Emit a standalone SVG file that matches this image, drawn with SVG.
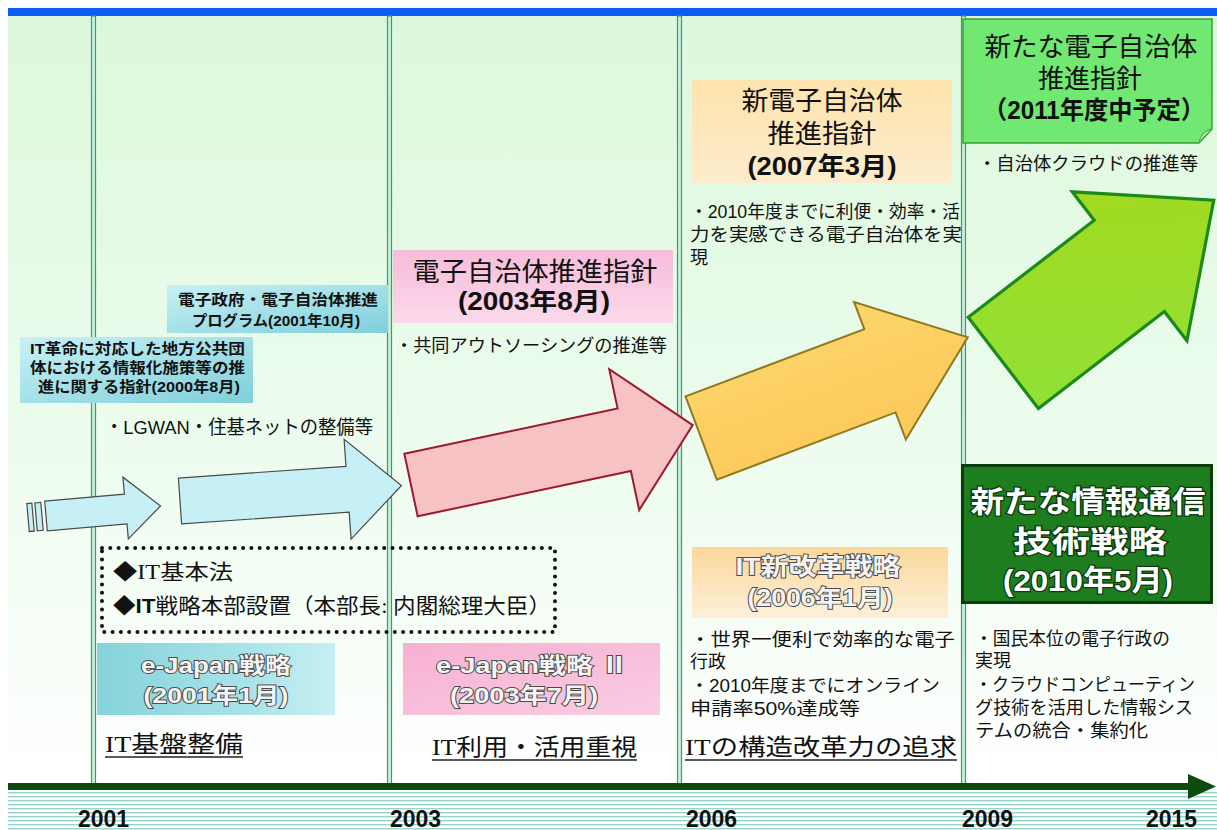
<svg xmlns="http://www.w3.org/2000/svg" width="1217" height="830" viewBox="0 0 1217 830">
<defs>
<style>
.s{font-family:"Liberation Sans","Noto Sans CJK JP",sans-serif;fill:#111}
.r{font-family:"Liberation Serif","Noto Sans CJK JP",serif;fill:#111}
.b{font-weight:bold}
.c{text-anchor:middle}
.emb{fill:#f4f4f4;stroke:#4a4a4a;stroke-width:1.8;paint-order:stroke;font-weight:bold}
.wt{fill:#ffffff;stroke:#0b3a0b;stroke-width:2.5;paint-order:stroke;font-weight:bold}
.vl{fill:#c8f0dc;stroke:#3f9a6c;stroke-width:1.2}
.ul{stroke:#222;stroke-width:1.5}
</style>
<linearGradient id="bg" x1="0" y1="0" x2="0" y2="1">
<stop offset="0" stop-color="#dcf8dc"/>
<stop offset="0.6" stop-color="#eefcef"/>
<stop offset="1" stop-color="#ffffff"/>
</linearGradient>
<linearGradient id="cyanA" x1="0" y1="0" x2="1" y2="1">
<stop offset="0" stop-color="#c8f1f6"/>
<stop offset="1" stop-color="#7fcfda"/>
</linearGradient>
<linearGradient id="cyanB" x1="0" y1="0" x2="1" y2="0">
<stop offset="0" stop-color="#86d3dc"/>
<stop offset="0.6" stop-color="#a6e2e8"/>
<stop offset="1" stop-color="#c6eff3"/>
</linearGradient>
<linearGradient id="pinkA" x1="0" y1="0" x2="0" y2="1">
<stop offset="0" stop-color="#f7bcd9"/>
<stop offset="1" stop-color="#fbd9ea"/>
</linearGradient>
<linearGradient id="pinkB" x1="0" y1="0" x2="1" y2="1">
<stop offset="0" stop-color="#f7b0d2"/>
<stop offset="1" stop-color="#f9cde2"/>
</linearGradient>
<linearGradient id="orA" x1="0" y1="0" x2="0" y2="1">
<stop offset="0" stop-color="#fde3ad"/>
<stop offset="1" stop-color="#fdeccc"/>
</linearGradient>
<linearGradient id="orB" x1="0" y1="0" x2="0" y2="1">
<stop offset="0" stop-color="#fbd79b"/>
<stop offset="1" stop-color="#fdf0da"/>
</linearGradient>
<linearGradient id="grArrow" x1="0" y1="1" x2="1" y2="0">
<stop offset="0" stop-color="#8ee23a"/>
<stop offset="1" stop-color="#a6d81a"/>
</linearGradient>
<linearGradient id="ylArrow" x1="0" y1="0" x2="0" y2="1">
<stop offset="0" stop-color="#fdd56a"/>
<stop offset="1" stop-color="#fbc85a"/>
</linearGradient>
<pattern id="stripes" width="8" height="4" patternUnits="userSpaceOnUse">
<rect width="8" height="4" fill="#ffffff"/>
<rect y="0" width="8" height="1.4" fill="#98d4cc"/>
</pattern>
</defs>

<rect width="1217" height="830" fill="#ffffff"/>
<rect x="8" y="16" width="1209" height="768" fill="url(#bg)"/>
<rect x="8" y="8" width="1209" height="8" fill="#0b5cf2"/>

<g id="gridlines">
<rect class="vl" x="91.5" y="16" width="4" height="768"/>
<rect class="vl" x="387.5" y="16" width="4" height="768"/>
<rect class="vl" x="677.5" y="16" width="4" height="768"/>
<rect class="vl" x="961.5" y="16" width="4" height="768"/>
</g>

<g id="timeline">
<rect x="8" y="792" width="1209" height="38" fill="url(#stripes)"/>
<rect x="8" y="783" width="1184" height="7" fill="#0c4a10"/>
<polygon points="1188,774 1216,786.5 1188,799" fill="#0c4a10"/>
<text class="s b" x="78" y="827" font-size="23">2001</text>
<text class="s b" x="390" y="827" font-size="23">2003</text>
<text class="s b" x="686" y="827" font-size="23">2006</text>
<text class="s b" x="962" y="827" font-size="23">2009</text>
<text class="s b" x="1146" y="827" font-size="23">2015</text>
</g>

<g id="connectors">
<g id="arrow-small" transform="translate(46,516) rotate(-5)" fill="#c6f0f6" stroke="#4a4a4a" stroke-width="1.2">
<rect x="-18" y="-14" width="5" height="28"/>
<rect x="-10" y="-14" width="6" height="28"/>
<polygon points="0,-15 80,-15 80,-32 115,0 80,30 80,15 0,15"/>
</g>
<polygon id="arrow-cyan" transform="translate(180,501) rotate(-4)" points="0,-23 168,-23 168,-50 222,0 168,50 168,23 0,23" fill="#c6f0f6" stroke="#4a4a4a" stroke-width="1.2"/>
<polygon id="arrow-red" transform="translate(411,485) rotate(-12)" points="0,-32 218,-32 218,-72 288,0 218,72 218,32 0,32" fill="#f7c2c4" stroke="#9c1a30" stroke-width="2"/>
<polygon id="arrow-yellow" transform="translate(701,437.5) rotate(-20.6)" points="0,-44 191,-44 191,-73 285,0 191,74 191,45 0,45" fill="url(#ylArrow)" stroke="#8f7a22" stroke-width="2"/>
<polygon id="arrow-green" transform="translate(1003,362.5) rotate(-37.6)" points="0,-57 159,-57 159,-93 266,0 159,95 159,58 0,58" fill="url(#grArrow)" stroke="#1b8a1b" stroke-width="3.2"/>
</g>

<g id="node-it-kakumei">
<rect x="20" y="337" width="233" height="66" fill="url(#cyanA)"/>
<text class="s b" x="30" y="354" font-size="15" textLength="215" lengthAdjust="spacingAndGlyphs">IT革命に対応した地方公共団</text>
<text class="s b" x="30" y="373" font-size="15" textLength="215" lengthAdjust="spacingAndGlyphs">体における情報化施策等の推</text>
<text class="s b" x="38" y="392" font-size="15" textLength="202" lengthAdjust="spacingAndGlyphs">進に関する指針(2000年8月)</text>
</g>

<g id="node-egov-program">
<rect x="167" y="285" width="221" height="48" fill="url(#cyanA)"/>
<text class="s b" x="178" y="305" font-size="15" textLength="200" lengthAdjust="spacingAndGlyphs">電子政府・電子自治体推進</text>
<text class="s b" x="192" y="326" font-size="15" textLength="168" lengthAdjust="spacingAndGlyphs">プログラム(2001年10月)</text>
</g>

<g id="note-lgwan">
<text class="s" x="105" y="434" font-size="19" textLength="268" lengthAdjust="spacingAndGlyphs">・LGWAN・住基ネットの整備等</text>
</g>

<g id="node-it-kihonho">
<rect x="102" y="548" width="453" height="84" fill="none" stroke="#111" stroke-width="4" stroke-dasharray="0 8.3" stroke-linecap="round"/>
<text class="r" x="113" y="579" font-size="21" textLength="120" lengthAdjust="spacingAndGlyphs">◆IT基本法</text>
<text class="r" x="113" y="613" font-size="21" textLength="438" lengthAdjust="spacingAndGlyphs">◆<tspan class="s b" style="font-family:'Liberation Sans',sans-serif">IT</tspan>戦略本部設置（本部長: 内閣総理大臣）</text>
</g>

<g id="node-ejapan">
<rect x="97" y="643" width="238" height="72" fill="url(#cyanB)"/>
<text class="s emb c" x="216" y="673" font-size="22" textLength="150" lengthAdjust="spacingAndGlyphs">e-Japan戦略</text>
<text class="s emb c" x="216" y="703" font-size="22" textLength="145" lengthAdjust="spacingAndGlyphs">(2001年1月)</text>
</g>
<g id="label-it-kiban">
<text class="r" x="105" y="752" font-size="23" textLength="138" lengthAdjust="spacingAndGlyphs">IT基盤整備</text>
<line class="ul" x1="105" y1="757" x2="243" y2="757"/>
</g>

<g id="node-shishin-2003">
<rect x="393" y="250" width="280" height="73" fill="url(#pinkA)"/>
<text class="s c" x="535" y="281" font-size="26" textLength="245" lengthAdjust="spacingAndGlyphs">電子自治体推進指針</text>
<text class="s b c" x="534" y="310" font-size="25" textLength="152" lengthAdjust="spacingAndGlyphs">(2003年8月)</text>
</g>
<g id="note-outsourcing">
<text class="s" x="395" y="352" font-size="18" textLength="272" lengthAdjust="spacingAndGlyphs">・共同アウトソーシングの推進等</text>
</g>

<g id="node-ejapan2">
<rect x="403" y="643" width="257" height="72" fill="url(#pinkB)"/>
<text class="s emb c" x="532" y="673" font-size="22" textLength="192" lengthAdjust="spacingAndGlyphs">e-Japan戦略 Ⅱ</text>
<text class="s emb c" x="524" y="703" font-size="22" textLength="148" lengthAdjust="spacingAndGlyphs">(2003年7月)</text>
</g>
<g id="label-it-riyou">
<text class="r" x="432" y="755" font-size="23" textLength="205" lengthAdjust="spacingAndGlyphs">IT利用・活用重視</text>
<line class="ul" x1="432" y1="760" x2="637" y2="760"/>
</g>

<g id="node-shin-shishin-2007">
<rect x="692" y="80" width="260" height="103" fill="url(#orA)"/>
<text class="s c" x="822" y="110" font-size="26" textLength="161" lengthAdjust="spacingAndGlyphs">新電子自治体</text>
<text class="s c" x="822" y="143" font-size="26" textLength="109" lengthAdjust="spacingAndGlyphs">推進指針</text>
<text class="s b c" x="822" y="175" font-size="25" textLength="149" lengthAdjust="spacingAndGlyphs">(2007年3月)</text>
</g>
<g id="note-2007">
<text class="s" x="690" y="218" font-size="18" textLength="270" lengthAdjust="spacingAndGlyphs">・2010年度までに利便・効率・活</text>
<text class="s" x="690" y="241" font-size="18" textLength="272" lengthAdjust="spacingAndGlyphs">力を実感できる電子自治体を実</text>
<text class="s" x="690" y="264" font-size="18">現</text>
</g>

<g id="node-it-shinkaikaku">
<rect x="692" y="547" width="256" height="71" fill="url(#orB)"/>
<text class="s emb c" x="818" y="575" font-size="24" textLength="165" lengthAdjust="spacingAndGlyphs">IT新改革戦略</text>
<text class="s emb c" x="820" y="606" font-size="23" textLength="145" lengthAdjust="spacingAndGlyphs">(2006年1月)</text>
</g>
<g id="note-2006">
<text class="s" x="690" y="646" font-size="18" textLength="265" lengthAdjust="spacingAndGlyphs">・世界一便利で効率的な電子</text>
<text class="s" x="690" y="668" font-size="18">行政</text>
<text class="s" x="690" y="692" font-size="18" textLength="250" lengthAdjust="spacingAndGlyphs">・2010年度までにオンライン</text>
<text class="s" x="690" y="715" font-size="18" textLength="170" lengthAdjust="spacingAndGlyphs">申請率50%達成等</text>
</g>
<g id="label-it-kouzou">
<text class="r" x="685" y="755" font-size="23" textLength="272" lengthAdjust="spacingAndGlyphs">ITの構造改革力の追求</text>
<line class="ul" x1="685" y1="760" x2="957" y2="760"/>
</g>

<g id="node-aratana-shishin">
<path d="M963,19 H1212 V129 L1199,143 H963 Z" fill="#70e872" stroke="#3c9c3c" stroke-width="1.5"/>
<path d="M1199,143 Q1201,131 1212,129 Q1204,136 1199,143 Z" fill="#b8f0b8" stroke="#3c9c3c" stroke-width="1"/>
<text class="s c" x="1091" y="56" font-size="26" textLength="213" lengthAdjust="spacingAndGlyphs">新たな電子自治体</text>
<text class="s c" x="1090" y="88" font-size="26" textLength="104" lengthAdjust="spacingAndGlyphs">推進指針</text>
<text class="s b c" x="1094" y="119" font-size="25" textLength="222" lengthAdjust="spacingAndGlyphs">（2011年度中予定）</text>
</g>
<g id="note-cloud">
<text class="s" x="978" y="170" font-size="18" textLength="220" lengthAdjust="spacingAndGlyphs">・自治体クラウドの推進等</text>
</g>

<g id="node-ict-senryaku">
<rect x="962.5" y="465.5" width="249" height="137" fill="#1d7d1f" stroke="#0b3d0c" stroke-width="3"/>
<text class="s wt c" x="1088" y="512" font-size="30" textLength="235" lengthAdjust="spacingAndGlyphs">新たな情報通信</text>
<text class="s wt c" x="1090" y="552" font-size="30" textLength="154" lengthAdjust="spacingAndGlyphs">技術戦略</text>
<text class="s wt c" x="1088" y="591" font-size="29" textLength="170" lengthAdjust="spacingAndGlyphs">(2010年5月)</text>
</g>
<g id="note-2010">
<text class="s" x="975" y="645" font-size="18" textLength="195" lengthAdjust="spacingAndGlyphs">・国民本位の電子行政の</text>
<text class="s" x="975" y="667" font-size="18">実現</text>
<text class="s" x="975" y="691" font-size="18" textLength="220" lengthAdjust="spacingAndGlyphs">・クラウドコンピューティン</text>
<text class="s" x="975" y="714" font-size="18" textLength="218" lengthAdjust="spacingAndGlyphs">グ技術を活用した情報シス</text>
<text class="s" x="975" y="737" font-size="18" textLength="173" lengthAdjust="spacingAndGlyphs">テムの統合・集約化</text>
</g>
</svg>
